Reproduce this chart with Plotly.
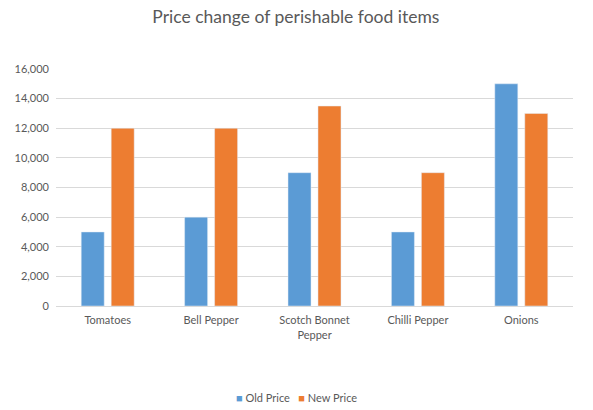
import plotly.graph_objects as go

categories = ["Tomatoes", "Bell Pepper", "Scotch Bonnet<br>Pepper", "Chilli Pepper", "Onions"]
old_price = [5000, 6000, 9000, 5000, 15000]
new_price = [12000, 12000, 13500, 9000, 13000]
y_ticks = [0, 2000, 4000, 6000, 8000, 10000, 12000, 14000, 16000]

blue = "#5B9BD5"
orange = "#ED7D31"

fig = go.Figure()
fig.add_trace(go.Bar(x=categories, y=old_price, name="Old Price", marker_color=blue))
fig.add_trace(go.Bar(x=categories, y=new_price, name="New Price", marker_color=orange))

fig.update_layout(
    width=593,
    height=410,
    paper_bgcolor="white",
    plot_bgcolor="white",
    font=dict(family="Lato", size=11, color="#595959"),
    title=dict(text="Price change of perishable food items", x=0.464, xanchor="center",
               xref="paper", y=0.9585, yanchor="middle", font=dict(size=17.5, color="#595959")),
    margin=dict(l=56, r=20, t=69, b=104, autoexpand=False),
    barmode="group",
    bargap=0.42,
    bargroupgap=0.233,
    showlegend=False,
)

# compact Excel-style legend below the chart
legend_text = (f"<span style='color:{blue}'>■</span> Old Price"
               f"&nbsp;&nbsp;&nbsp;<span style='color:{orange}'>■</span> New Price")
fig.add_annotation(text=legend_text, xref="paper", yref="paper", x=0.466, y=-0.384,
                   xanchor="center", yanchor="middle", showarrow=False,
                   font=dict(size=11, color="#595959"))

fig.update_xaxes(showline=True, linecolor="#d9d9d9", linewidth=1, ticks="",
                 tickfont=dict(size=11), ticklabelstandoff=4, automargin=False)
fig.update_yaxes(range=[0, 16000], tickvals=y_ticks, tickformat=",", gridcolor="#d9d9d9",
                 zeroline=False, showline=False, ticks="", tickfont=dict(size=11),
                 ticklabelstandoff=6, automargin=False)

# drop the default page margin so the figure fills the window, no modebar
fig.write_html("out.html", config={"displayModeBar": False},
               post_script="document.body.style.margin='0';document.body.style.overflow='hidden';")
